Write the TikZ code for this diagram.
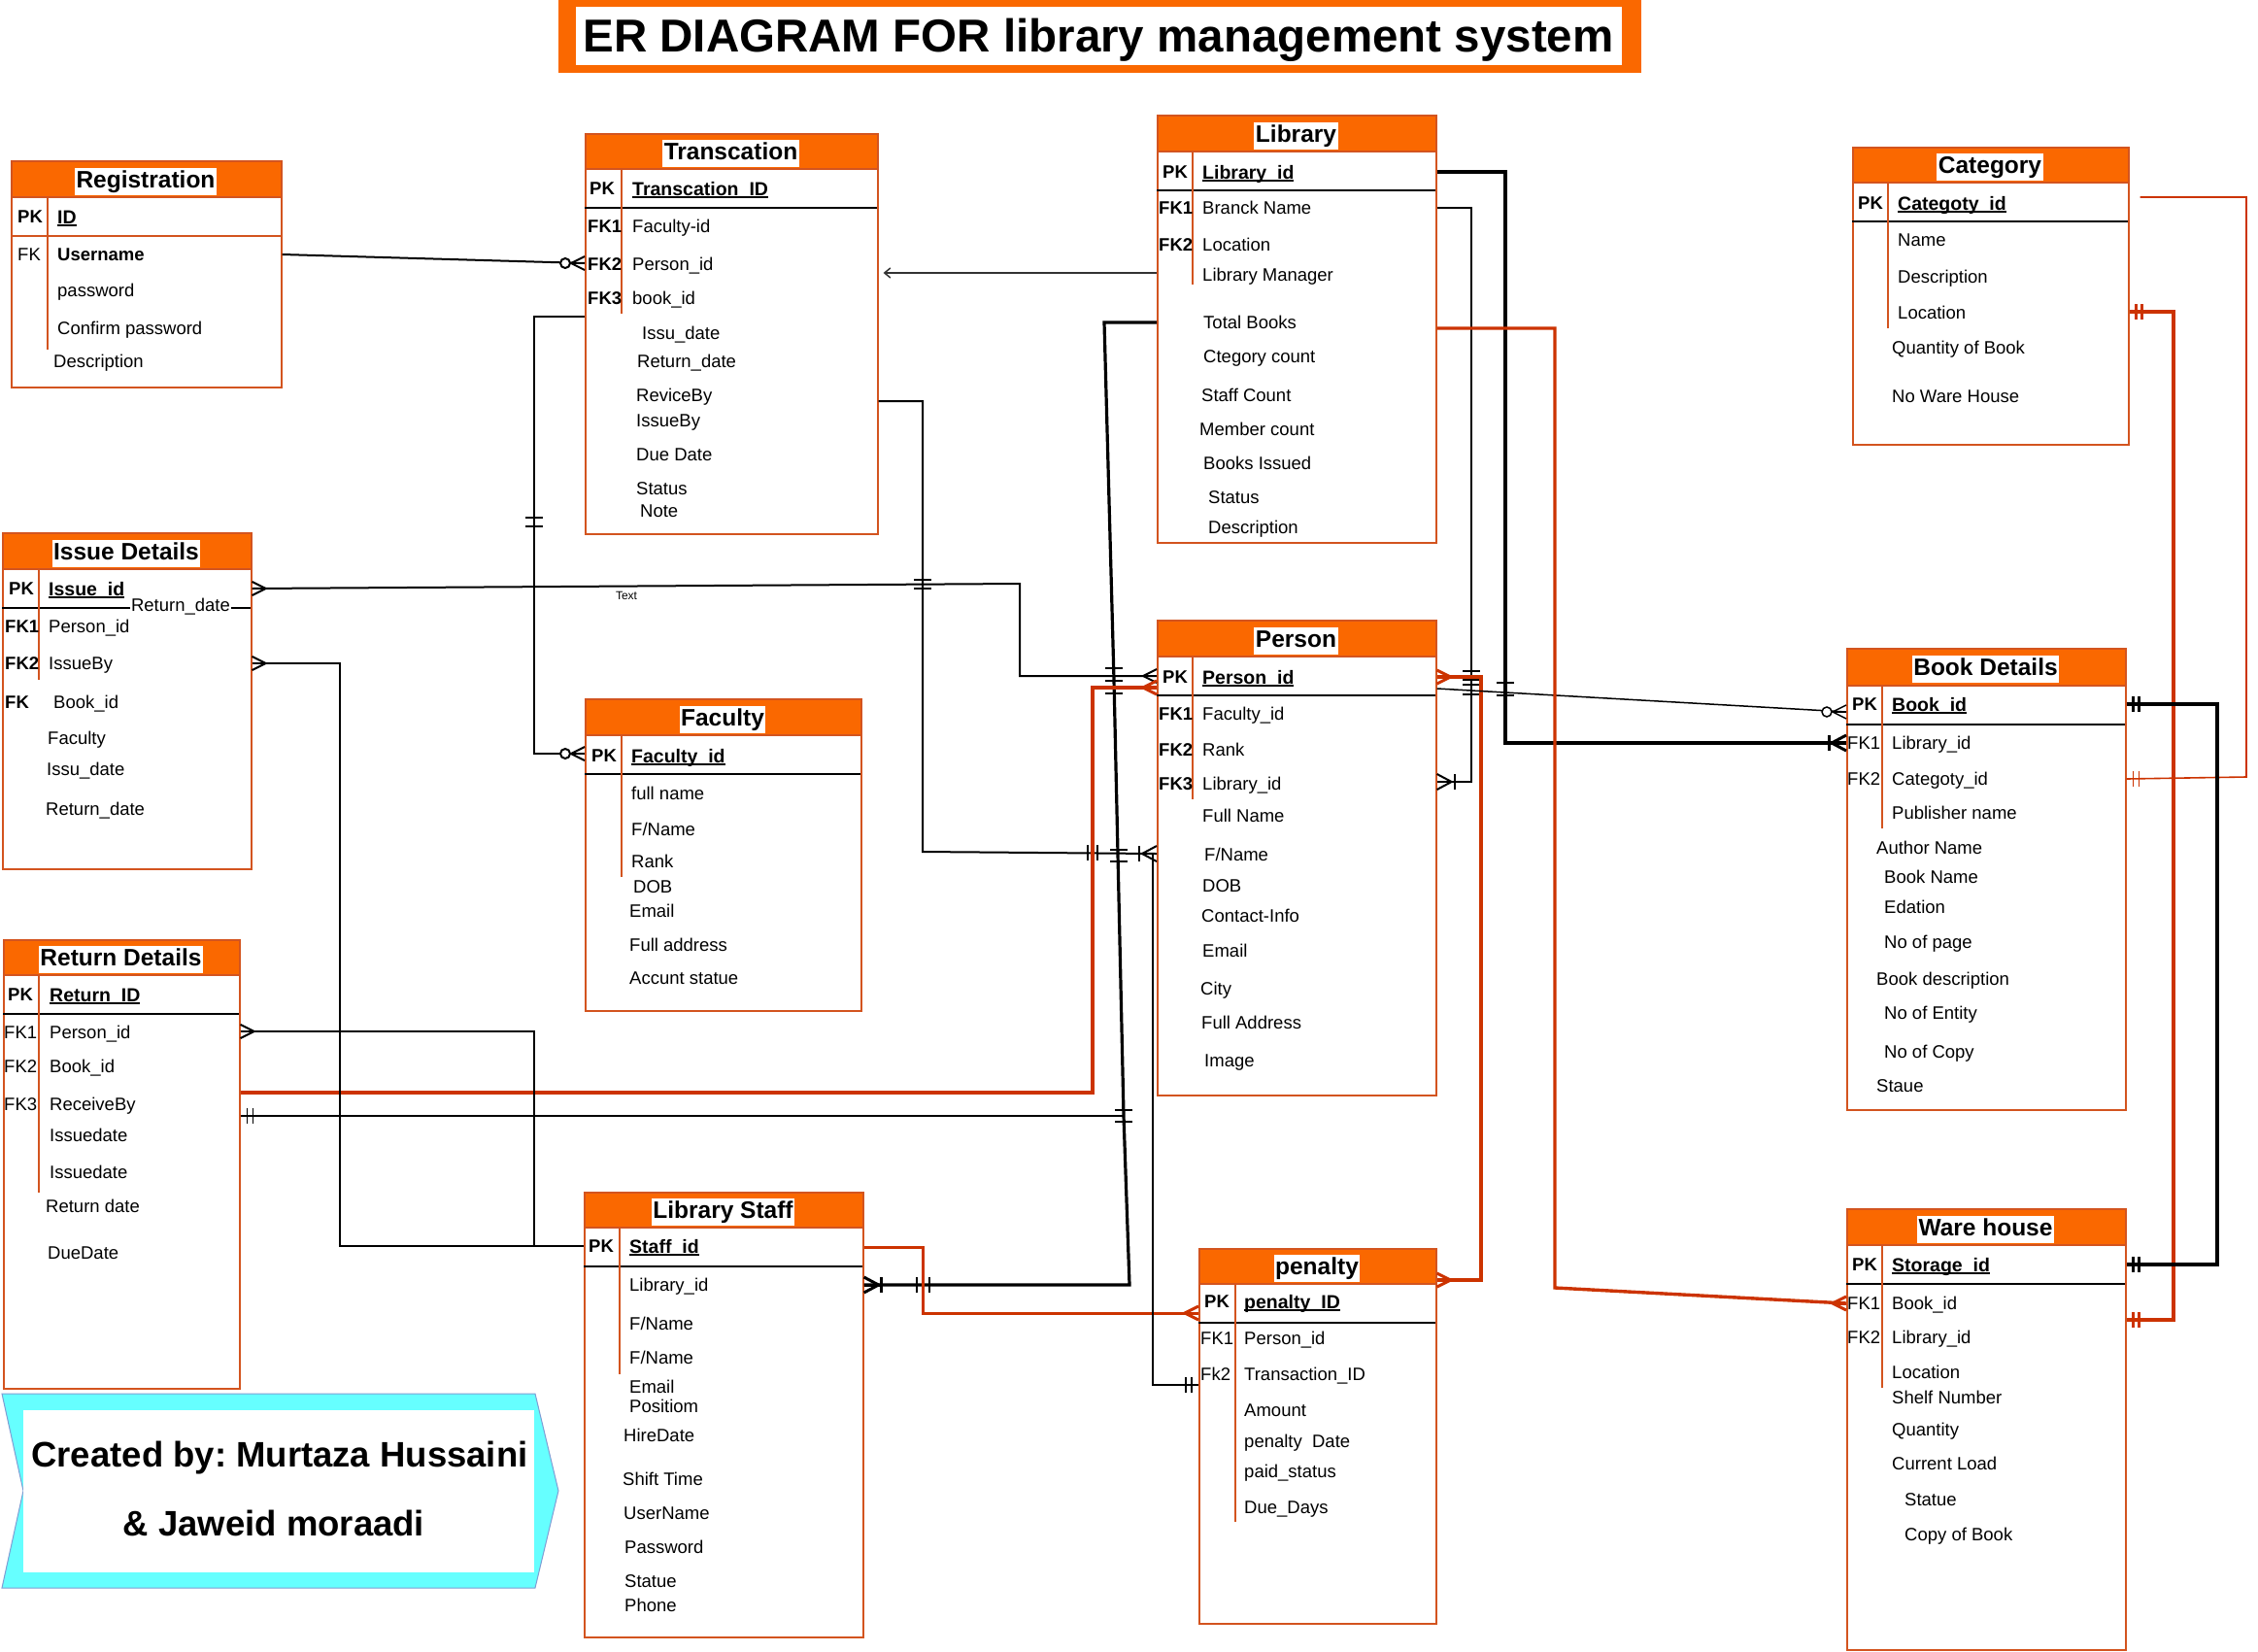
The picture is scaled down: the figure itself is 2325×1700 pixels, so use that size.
\documentclass[tikz,border=0pt]{standalone}
\usepackage{fontspec}
\setmainfont{Liberation Sans}
\usetikzlibrary{arrows.meta}
\frenchspacing
\definecolor{hfill}{HTML}{FA6800}
\definecolor{tstroke}{HTML}{D3541F}
\definecolor{ocol}{HTML}{CC3300}
\definecolor{cyanfill}{HTML}{66FFFF}
\definecolor{cyanstroke}{HTML}{7F9CD3}
\newcommand\ulbox[1]{\setbox0\hbox{#1}\rlap{\rule[-2.6pt]{\wd0}{1.3pt}}\box0}
\tikzset{
  fld/.style={anchor=base west, inner sep=0pt, yshift=-6.6pt, font=\fontsize{18.5}{22}\selectfont},
  fldb/.style={fld, font=\fontsize{18.5}{22}\selectfont\bfseries},
  pkf/.style={anchor=base west, inner sep=0pt, yshift=-7pt, font=\fontsize{19.5}{23}\selectfont\bfseries},
  ttl/.style={fill=white, inner xsep=1.5pt, inner ysep=3pt, text height=17.5pt, text depth=4.5pt, yshift=-2.5pt, font=\fontsize{24.5}{28}\selectfont\bfseries},
  tbox/.style={draw=tstroke, line width=1.6pt, inner sep=0pt, anchor=north west},
  pkl/.style={black, line width=1.2pt},
  divl/.style={tstroke, line width=1.6pt},
  rel/.style={black, line width=2pt},
  relthick/.style={black, line width=3.2pt},
  relthin/.style={black, line width=1.5pt},
  orel/.style={ocol, line width=3.4pt},
  orelthin/.style={ocol, line width=1.6pt},
  many/.pic={\draw (0,-7)--(14,0)--(0,7); \draw (0,0)--(14,0);},
  zmany/.pic={\draw (0,-7)--(14,0)--(0,7); \draw (0,0)--(14,0); \draw[fill=white] (20,0) circle (5);},
  omany/.pic={\draw (0,-8)--(15,0)--(0,8); \draw (0,0)--(18,0); \draw (18,-8)--(18,8);},
  mone/.pic={\draw (7,-8)--(7,8); \draw (13,-8)--(13,8);},
  htick/.pic={\draw (-9,0)--(9,0);},
  vtick/.pic={\draw (0,-8)--(0,8);},
}
\newcommand\ertable[9]{%
  \fill[hfill] (#2,#3) rectangle (#4,#6);
  \draw[tstroke, line width=1.6pt] (#2,#6) -- (#4,#6);
  \node[tbox, minimum width={(#4-#2)*1pt}, minimum height={(#5-#3)*1pt}] (#1) at (#2,#3) {};
  \draw[pkl] (#2,#7) -- (#4,#7);
  \draw[divl] (#8,#6) -- (#8,#9);
}
\newcommand\ertitle[4]{\node[ttl] (#1) at (#2,#3) {#4};}
\newcommand\erfl[4]{\node[fld] (#1) at (#2,#3) {#4};}
\newcommand\erfb[4]{\node[fldb] (#1) at (#2,#3) {#4};}
\newcommand\erpk[4]{\node[pkf] (#1) at (#2,#3) {\ulbox{#4}};}

\begin{document}
\begin{tikzpicture}[x=1pt,y=-1pt]
\useasboundingbox (0,0) rectangle (2325,1700);
\fill[white] (0,0) rectangle (2325,1700);

% main title
\fill[hfill] (575,-2) rectangle (1690,75);
\fill[white] (593,7) rectangle (1670,67);
\node[inner sep=0pt, font=\fontsize{47.5}{50}\selectfont\bfseries] (title) at (1131,41) {ER DIAGRAM FOR library management system};

% ---------- Registration
\ertable{reg}{11}{165}{289}{398}{203}{243}{49}{360}
\draw[tstroke, line width=1.4pt] (11,243) -- (289,243);
\ertitle{regt}{150}{184}{Registration}
\erfb{regk1}{18}{223}{PK}
\erpk{regpk}{59}{223}{ID}
\erfl{regk2}{18}{262}{FK}
\erfb{reg1}{59}{262}{Username}
\erfl{reg2}{59}{299}{password}
\erfl{reg3}{59}{338}{Confirm password}
\erfl{reg4}{55}{372}{Description}

% ---------- Transcation
\ertable{trans}{602}{137}{903}{549}{174}{214}{640}{323}
\ertitle{transt}{752.5}{155.5}{Transcation}
\erfb{trk1}{607}{194}{PK}
\erpk{trpk}{651}{194}{Transcation\_ID}
\erfb{trk2}{605}{233}{FK1}
\erfl{tr1}{651}{233}{Faculty-id}
\erfb{trk3}{605}{272}{FK2}
\erfl{tr2}{651}{272}{Person\_id}
\erfb{trk4}{605}{307}{FK3}
\erfl{tr3}{651}{307}{book\_id}
\erfl{tr4}{661}{343}{Issu\_date}
\erfl{tr5}{656}{372}{Return\_date}
\erfl{tr6}{655}{407}{ReviceBy}
\erfl{tr7}{655}{433}{IssueBy}
\erfl{tr8}{655}{468}{Due Date}
\erfl{tr9}{655}{503}{Status}
\erfl{tr10}{659}{526}{Note}

% ---------- Library
\ertable{lib}{1191}{118}{1478}{558}{156}{196}{1228}{293}
\ertitle{libt}{1334.5}{137}{Library}
\erfb{lik1}{1197}{177}{PK}
\erpk{lipk}{1238}{177}{Library\_id}
\erfb{lik2}{1193}{214}{FK1}
\erfl{li1}{1238}{214}{Branck Name}
\erfb{lik3}{1193}{252}{FK2}
\erfl{li2}{1238}{252}{Location}
\erfl{li3}{1238}{283}{Library Manager}
\erfl{li4}{1239}{332}{Total Books}
\erfl{li5}{1239}{367}{Ctegory count}
\erfl{li6}{1237}{407}{Staff Count}
\erfl{li7}{1235}{442}{Member count}
\erfl{li8}{1239}{477}{Books Issued}
\erfl{li9}{1244}{512}{Status}
\erfl{li10}{1244}{543}{Description}

% ---------- Category
\ertable{cat}{1907}{151}{2191}{457}{188}{228}{1944}{338}
\ertitle{catt}{2049}{169.5}{Category}
\erfb{cak1}{1913}{209}{PK}
\erpk{capk}{1954}{209}{Categoty\_id}
\erfl{ca1}{1954}{247}{Name}
\erfl{ca2}{1954}{285}{Description}
\erfl{ca3}{1954}{322}{Location}
\erfl{ca4}{1948}{358}{Quantity of Book}
\erfl{ca5}{1948}{408}{No Ware House}

% ---------- Issue Details
\ertable{issue}{2}{548}{258}{894}{586}{626}{40}{700}
\ertitle{issuet}{130}{567}{Issue Details}
\erfb{isk1}{9}{606}{PK}
\erpk{ispk}{50}{606}{Issue\_id}
\erfb{isk2}{5}{645}{FK1}
\erfl{is1}{50}{645}{Person\_id}
\erfb{isk3}{5}{683}{FK2}
\erfl{is2}{50}{683}{IssueBy}
\erfb{isk4}{5}{723}{FK}
\erfl{is3}{55}{723}{Book\_id}
\erfl{is4}{49}{760}{Faculty}
\erfl{is5}{48}{792}{Issu\_date}
\erfl{is6}{47}{833}{Return\_date}
\node[fill=white, inner sep=1pt, font=\fontsize{18.5}{22}\selectfont] (isrd) at (186,625) {Return\_date};

% ---------- Return Details
\ertable{ret}{3}{967}{246}{1429}{1004}{1044}{40}{1228}
\ertitle{rett}{124.5}{985.5}{Return Details}
\erfb{rek1}{8}{1024}{PK}
\erpk{repk}{51}{1024}{Return\_ID}
\erfl{rek2}{4}{1063}{FK1}
\erfl{re1}{51}{1063}{Person\_id}
\erfl{rek3}{4}{1098}{FK2}
\erfl{re2}{51}{1098}{Book\_id}
\erfl{rek4}{4}{1137}{FK3}
\erfl{re3}{51}{1137}{ReceiveBy}
\erfl{re4}{51}{1169}{Issuedate}
\erfl{re5}{51}{1207}{Issuedate}
\erfl{re6}{47}{1242}{Return date}
\erfl{re7}{49}{1290}{DueDate}

% ---------- Faculty
\ertable{fac}{602}{719}{886}{1040}{757}{797}{640}{903}
\ertitle{fact}{744}{738}{Faculty}
\erfb{fak1}{609}{778}{PK}
\erpk{fapk}{650}{778}{Faculty\_id}
\erfl{fa1}{650}{817}{full name}
\erfl{fa2}{650}{854}{F/Name}
\erfl{fa3}{650}{887}{Rank}
\erfl{fa4}{652}{913}{DOB}
\erfl{fa5}{648}{938}{Email}
\erfl{fa6}{648}{973}{Full address}
\erfl{fa7}{648}{1007}{Accunt statue}

% ---------- Person
\ertable{per}{1191}{638}{1478}{1127}{676}{716}{1228}{823}
\ertitle{pert}{1334.5}{657}{Person}
\erfb{pek1}{1197}{697}{PK}
\erpk{pepk}{1238}{697}{Person\_id}
\erfb{pek2}{1193}{735}{FK1}
\erfl{pe1}{1238}{735}{Faculty\_id}
\erfb{pek3}{1193}{772}{FK2}
\erfl{pe2}{1238}{772}{Rank}
\erfb{pek4}{1193}{807}{FK3}
\erfl{pe3}{1238}{807}{Library\_id}
\erfl{pe4}{1238}{840}{Full Name}
\erfl{pe5}{1240}{880}{F/Name}
\erfl{pe6}{1238}{912}{DOB}
\erfl{pe7}{1237}{943}{Contact-Info}
\erfl{pe8}{1238}{979}{Email}
\erfl{pe9}{1236}{1018}{City}
\erfl{pe10}{1237}{1053}{Full Address}
\erfl{pe11}{1240}{1092}{Image}

% ---------- Book Details
\ertable{book}{1901}{667}{2188}{1142}{706}{746}{1938}{853}
\ertitle{bookt}{2044.5}{686.5}{Book Details}
\erfb{bok1}{1907}{725}{PK}
\erpk{bopk}{1948}{725}{Book\_id}
\erfl{bok2}{1902}{765}{FK1}
\erfl{bo1}{1948}{765}{Library\_id}
\erfl{bok3}{1902}{802}{FK2}
\erfl{bo2}{1948}{802}{Categoty\_id}
\erfl{bo3}{1948}{837}{Publisher name}
\erfl{bo4}{1932}{873}{Author Name}
\erfl{bo5}{1940}{903}{Book Name}
\erfl{bo6}{1940}{934}{Edation}
\erfl{bo7}{1940}{970}{No of page}
\erfl{bo8}{1932}{1008}{Book description}
\erfl{bo9}{1940}{1043}{No of Entity}
\erfl{bo10}{1940}{1083}{No of Copy}
\erfl{bo11}{1932}{1118}{Staue}

% ---------- Library Staff
\ertable{staff}{601}{1227}{888}{1685}{1264}{1304}{638}{1415}
\ertitle{stafft}{744.5}{1245.5}{Library Staff}
\erfb{stk1}{606}{1283}{PK}
\erpk{stpk}{648}{1283}{Staff\_id}
\erfl{st1}{648}{1323}{Library\_id}
\erfl{st2}{648}{1363}{F/Name}
\erfl{st3}{648}{1398}{F/Name}
\erfl{st4}{648}{1428}{Email}
\erfl{st5}{648}{1448}{Positiom}
\erfl{st6}{642}{1478}{HireDate}
\erfl{st7}{641}{1523}{Shift Time}
\erfl{st8}{642}{1558}{UserName}
\erfl{st9}{643}{1593}{Password}
\erfl{st10}{643}{1628}{Statue}
\erfl{st11}{643}{1653}{Phone}

% ---------- penalty
\ertable{pen}{1234}{1285}{1478}{1671}{1322}{1362}{1272}{1567}
\ertitle{pent}{1356}{1303.5}{penalty}
\erfb{pnk1}{1240}{1340}{PK}
\erpk{pnpk}{1281}{1340}{penalty\_ID}
\erfl{pnk2}{1236}{1378}{FK1}
\erfl{pn1}{1281}{1378}{Person\_id}
\erfl{pnk3}{1236}{1415}{Fk2}
\erfl{pn2}{1281}{1415}{Transaction\_ID}
\erfl{pn3}{1281}{1452}{Amount}
\erfl{pn4}{1281}{1484}{penalty\ \ Date}
\erfl{pn5}{1281}{1515}{paid\_status}
\erfl{pn6}{1281}{1552}{Due\_Days}

% ---------- Ware house
\ertable{ware}{1901}{1244}{2188}{1698}{1282}{1322}{1938}{1429}
\ertitle{waret}{2044.5}{1263}{Ware house}
\erfb{wak1}{1907}{1302}{PK}
\erpk{wapk}{1948}{1302}{Storage\_id}
\erfl{wak2}{1902}{1342}{FK1}
\erfl{wa1}{1948}{1342}{Book\_id}
\erfl{wak3}{1902}{1377}{FK2}
\erfl{wa2}{1948}{1377}{Library\_id}
\erfl{wa3}{1948}{1413}{Location}
\erfl{wa4}{1948}{1439}{Shelf Number}
\erfl{wa5}{1948}{1472}{Quantity}
\erfl{wa6}{1948}{1507}{Current Load}
\erfl{wa7}{1961}{1544}{Statue}
\erfl{wa8}{1961}{1580}{Copy of Book}

% ---------- credit banner
\draw[fill=cyanfill, draw=cyanstroke, line width=1pt] (2,1435) -- (551,1435) -- (575,1535) -- (551,1635) -- (2,1635) -- (24,1535) -- cycle;
\fill[white] (24,1452) rectangle (550,1619);
\node[inner sep=0pt, font=\fontsize{36.5}{40}\selectfont\bfseries] (cr1) at (288,1501) {Created by: Murtaza Hussaini};
\node[inner sep=0pt, font=\fontsize{36.5}{40}\selectfont\bfseries] (cr2) at (282,1568) {\& Jaweid moraadi};

% ---------- connectors
\coordinate (jc) at (550,326);
\coordinate (jstaff) at (550,1283);
\coordinate (jf) at (1157,1149);
\coordinate (jm) at (1187,879);

% A Registration -> Transcation
\draw[rel] (reg.east |- 0,262) -- (trans.west |- 0,271);
\pic[rotate=180, line width=2pt] at (trans.west |- 0,271) {zmany};

% B Library -> Transcation
\draw[relthin, draw=black!80, -{Straight Barb[length=6pt,width=10pt]}, shorten >=5pt] (lib.west |- 0,281) -- (trans.east |- 0,281);

% C Transcation -> Faculty
\draw[rel] (trans.west |- 0,326) -- (jc) -- (550,776) -- (fac.west |- 0,776);
\pic[rotate=180, line width=2pt] at (fac.west |- 0,776) {zmany};
\pic[line width=2pt] at (550,533) {htick};
\pic[line width=2pt] at (550,542) {htick};

% D Transcation -> Person
\draw[rel] (trans.east |- 0,413) -- (950,413) -- (950,877) -- (per.west |- 0,879);
\pic[rotate=180, line width=2pt] at (per.west |- 0,879) {omany};
\pic[line width=2pt] at (950,597) {htick};
\pic[line width=2pt] at (950,606) {htick};
\pic[line width=2pt] at (1120,878) {vtick};
\pic[line width=2pt] at (1130,878) {vtick};

% E Issue -> Person
\draw[rel] (issue.east |- 0,606) -- (1050,601) -- (1050,696) -- (per.west |- 0,696);
\pic[line width=2pt] at (issue.east |- 0,606) {many};
\pic[rotate=180, line width=2pt] at (per.west |- 0,696) {many};
\node[font=\fontsize{12}{14}\selectfont, inner sep=0pt] (etext) at (645,613) {Text};

% F Library -> Library Staff
\draw[relthick] (lib.west |- 0,332) -- (1137,332) -- (1147,700) -- (jf) -- (1163,1323) -- (staff.east |- 0,1323);
\pic[line width=3pt] at (staff.east |- 0,1323) {omany};
\foreach \yy/\xx in {688/1147,701/1147,714/1147,875/1152,887/1152,1143/1157,1155/1157}
  \pic[line width=2.6pt] at (\xx,\yy) {htick};
\pic[line width=2.6pt] at (944,1323) {vtick};
\pic[line width=2.6pt] at (957,1323) {vtick};

% G Return Details -> Person (orange)
\draw[orel] (ret.east |- 0,1125) -- (1125,1125) -- (1125,708) -- (per.west |- 0,708);
\pic[rotate=180, ocol, line width=3pt] at (per.west |- 0,708) {many};

% H Return Details -> Library Staff
\draw[rel] (ret.east |- 0,1062) -- (550,1062) -- (jstaff) -- (staff.west |- 0,1283);
\pic[line width=2pt] at (ret.east |- 0,1062) {many};

% I Issue Details -> Library Staff
\draw[rel] (issue.east |- 0,683) -- (350,683) -- (350,1283) -- (jstaff);
\pic[line width=2pt] at (issue.east |- 0,683) {many};

% J Return Details -> Library line
\draw[relthin] (ret.east |- 0,1149) -- (jf);
\pic[line width=1.5pt] at (ret.east |- 0,1149) {mone};

% K Library Staff -> penalty (orange)
\draw[orel, line width=3pt] (staff.east |- 0,1284) -- (950,1284) -- (950,1352) -- (pen.west |- 0,1352);
\pic[rotate=180, ocol, line width=3pt] at (pen.west |- 0,1352) {many};

% M -> penalty Fk2
\draw[rel] (jm) -- (1187,1426) -- (pen.west |- 0,1426);
\pic[rotate=180, line width=2pt] at (pen.west |- 0,1426) {mone};

% N Library -> Book Details
\draw[relthick] (lib.east |- 0,177) -- (1550,177) -- (1550,765) -- (book.west |- 0,765);
\pic[rotate=180, line width=3pt] at (book.west |- 0,765) {omany};
\pic[line width=2.6pt] at (1550,703) {htick};
\pic[line width=2.6pt] at (1550,716) {htick};

% Library Branck -> Person Library_id
\draw[rel] (lib.east |- 0,214) -- (1515,214) -- (1515,805) -- (per.east |- 0,805);
\pic[line width=2pt] at (per.east |- 0,805) {omany};
\foreach \yy in {691,700,705,715}
  \pic[line width=2pt] at (1515,\yy) {htick};

% O Person -> penalty (orange)
\draw[orel] (per.east |- 0,697) -- (1525,697) -- (1525,1318) -- (pen.east |- 0,1318);
\pic[ocol, line width=3pt] at (per.east |- 0,697) {many};
\pic[ocol, line width=3pt] at (pen.east |- 0,1318) {many};

% P Person -> Book Details
\draw[relthin] (per.east |- 0,709) -- (book.west |- 0,733);
\pic[rotate=180, line width=1.5pt] at (book.west |- 0,733) {zmany};

% Q Library -> Ware house (orange)
\draw[orel] (lib.east |- 0,338) -- (1601,338) -- (1601,1326) -- (ware.west |- 0,1342);
\pic[rotate=180, ocol, line width=3pt] at (ware.west |- 0,1342) {many};

% R Category -> Ware house (orange)
\draw[orel] (cat.east |- 0,321) -- (2238,321) -- (2238,1359) -- (ware.east |- 0,1359);
\pic[ocol, line width=3.4pt] at (cat.east |- 0,321) {mone};
\pic[ocol, line width=3.4pt] at (ware.east |- 0,1359) {mone};

% S Category -> Book Details (thin orange)
\draw[orelthin, shorten <=11pt] (cat.east |- 0,203) -- (2313,203) -- (2313,800) -- (book.east |- 0,802);
\pic[ocol, line width=1.6pt] at (book.east |- 0,802) {mone};

% T Book Details -> Ware house
\draw[relthick] (book.east |- 0,725) -- (2283,725) -- (2283,1302) -- (ware.east |- 0,1302);
\pic[line width=3pt] at (book.east |- 0,725) {mone};
\pic[line width=3pt] at (ware.east |- 0,1302) {mone};
\end{tikzpicture}
\end{document}
